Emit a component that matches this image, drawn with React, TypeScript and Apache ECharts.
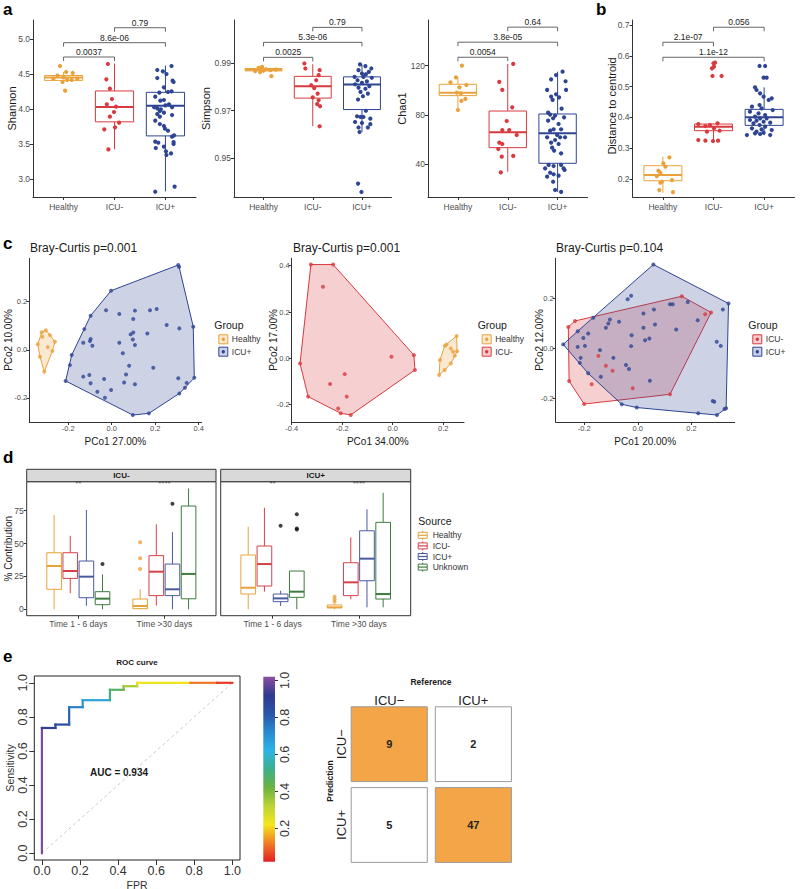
import React, { useEffect, useRef } from 'react';
import * as echarts from 'echarts';

const FONT = '"Liberation Sans", Arial, Helvetica, sans-serif';
const COL_H = '#E9A23B';
const COL_M = '#D93A3F';
const COL_P = '#2E4593';
const COL_DM = '#D6404A';
const COL_DP = '#4A5AA0';
const COL_DU = '#3E7B3E';

// ---------- Panel a / b : alpha diversity & dispersion ----------
const groups = ['Healthy', 'ICU-', 'ICU+'];

const shannonTicks = [3.0, 3.5, 4.0, 4.5, 5.0];
const shannonBox = [
  [4.38, 4.41, 4.45, 4.48, 4.53],
  [3.43, 3.82, 4.03, 4.26, 4.65],
  [2.83, 3.62, 4.05, 4.24, 4.62],
];
const shannonHealthy = [[-0.07, 4.615], [0.05, 4.53], [0.18, 4.516], [-0.12, 4.48], [0, 4.454], [0.07, 4.416], [0.16, 4.416], [-0.02, 4.387], [-0.2, 4.435], [0.27, 4.435], [0.03, 4.264]];
const shannonIcuMinus = [[-0.13, 4.644], [-0.16, 4.425], [-0.09, 4.292], [-0.05, 4.145], [-0.15, 4.069], [0.03, 4.036], [-0.01, 3.96], [-0.09, 3.894], [0.09, 3.808], [0.01, 3.742], [-0.2, 3.713], [-0.12, 3.428]];
const shannonIcuPlus = [[0.12, 4.615], [-0.16, 4.558], [-0.05, 4.539], [0.02, 4.501], [-0.16, 4.444], [0.14, 4.406], [0.16, 4.387], [-0.03, 4.311], [0.12, 4.254], [-0.12, 4.236], [0.05, 4.245], [-0.2, 4.179], [-0.03, 4.131], [-0.1, 4.122], [0.07, 4.069], [0, 4.055], [0.13, 4.027], [-0.22, 4.027], [-0.16, 4.012], [-0.09, 3.998], [-0.11, 3.974], [-0.03, 3.951], [0.13, 3.917], [-0.16, 3.932], [-0.11, 3.894], [-0.2, 3.837], [-0.11, 3.789], [-0.03, 3.761], [-0.01, 3.723], [0.05, 3.694], [0.17, 3.628], [0.13, 3.609], [-0.2, 3.538], [-0.14, 3.523], [0.16, 3.533], [0.16, 3.504], [-0.03, 3.467], [-0.19, 3.447], [0.01, 3.4], [0.11, 3.371], [0.02, 3.348], [0.18, 2.897], [-0.2, 2.825]];
const shannonBrackets = [[2, 3, 5.16], [1, 3, 4.947], [1, 2, 4.743]];
const shannonPvals = ['0.79', '8.6e-06', '0.0037'];

const simpsonTicks = [0.95, 0.97, 0.99];
const simpsonBox = [
  [0.9857, 0.9866, 0.9871, 0.9876, 0.9885],
  [0.9634, 0.9752, 0.9802, 0.9843, 0.9894],
  [0.961, 0.9704, 0.9809, 0.9841, 0.9893],
];
const simpsonHealthy = [[-0.1, 0.9879], [-0.03, 0.9883], [0.05, 0.9873], [-0.17, 0.9865], [0.14, 0.9869], [0.25, 0.9871], [0, 0.9868], [-0.07, 0.9861], [0.16, 0.9844]];
const simpsonIcuMinus = [[-0.17, 0.9897], [-0.15, 0.9876], [0.14, 0.9869], [0.12, 0.9848], [0.07, 0.9827], [-0.03, 0.9806], [0.03, 0.9794], [0.1, 0.9771], [0, 0.9755], [0.12, 0.9743], [0.09, 0.9727], [0.15, 0.9718], [0.14, 0.9634]];
const simpsonIcuPlus = [[-0.04, 0.9893], [0.07, 0.9886], [0.19, 0.9876], [-0.07, 0.9869], [0.14, 0.9862], [0, 0.9855], [0.08, 0.9852], [-0.15, 0.9841], [0.03, 0.9841], [0.2, 0.9837], [-0.09, 0.9827], [0.1, 0.9822], [0, 0.9816], [-0.14, 0.981], [0.15, 0.9802], [-0.07, 0.9796], [0.07, 0.9791], [-0.03, 0.9778], [0.12, 0.9771], [0.02, 0.976], [-0.08, 0.9746], [0.08, 0.9699], [-0.1, 0.9676], [0.03, 0.9673], [-0.03, 0.9673], [0.17, 0.9666], [-0.14, 0.9652], [0, 0.9648], [0.17, 0.9643], [-0.07, 0.9629], [0.12, 0.9629], [-0.05, 0.961], [-0.08, 0.9394], [-0.01, 0.9359]];
const simpsonBrackets = [[2, 3, 1.00481], [1, 3, 0.99854], [1, 2, 0.99226]];
const simpsonPvals = ['0.79', '5.3e-06', '0.0025'];

const chao1Ticks = [40, 80, 120];
const chao1Box = [
  [84, 95.7, 98.1, 104.9, 110.5],
  [34, 53.5, 66, 83.2, 121.4],
  [17.6, 40.8, 65.1, 80.8, 115.1],
];
const chao1Healthy = [[0.08, 120], [-0.04, 110.5], [-0.15, 106.5], [0.17, 104.3], [0.03, 102.4], [-0.02, 98.1], [0.06, 97.6], [0.15, 93], [0.07, 91.4], [0, 84]];
const chao1IcuMinus = [[0.11, 121.4], [-0.17, 106.8], [-0.11, 100.3], [0.09, 86.2], [-0.02, 75.1], [-0.11, 67.8], [0.03, 67.8], [0.18, 63.8], [-0.17, 57.6], [-0.11, 56.5], [-0.19, 52.4], [0.11, 46.8], [-0.12, 46.2], [-0.14, 33.5]];
const chao1IcuPlus = [[0.1, 115.1], [-0.03, 112.4], [-0.13, 108.9], [0.16, 107.3], [-0.21, 100.3], [0.17, 100.3], [-0.03, 96.8], [-0.13, 94.9], [0.03, 94.3], [-0.1, 92.2], [0.08, 85.1], [-0.19, 81.9], [-0.15, 80.3], [-0.05, 79.5], [0.13, 78.1], [-0.09, 77.3], [-0.19, 75.4], [0.02, 72.7], [-0.08, 68.4], [0.07, 68.4], [-0.15, 67.3], [-0.01, 63.8], [-0.21, 61.9], [0.05, 61.9], [0.15, 61.9], [-0.05, 59.7], [-0.13, 57.6], [0.02, 56.5], [-0.11, 53.5], [-0.07, 51.1], [0.07, 48.9], [-0.18, 39.5], [0.07, 39.5], [-0.08, 38.6], [-0.25, 36.7], [0.12, 36.7], [0.14, 35.4], [-0.15, 33.2], [-0.08, 31.9], [0.02, 30.8], [-0.21, 30], [-0.09, 25.9], [-0.05, 19.2], [0.07, 17.6]];
const chao1Brackets = [[2, 3, 151.2], [1, 3, 139.0], [1, 2, 126.8]];
const chao1Pvals = ['0.64', '3.8e-05', '0.0054'];

const distTicks = [0.2, 0.3, 0.4, 0.5, 0.6, 0.7];
const distBox = [
  [0.1557, 0.1947, 0.213, 0.2434, 0.2726],
  [0.3235, 0.357, 0.37, 0.3786, 0.3808],
  [0.3429, 0.3743, 0.4003, 0.4262, 0.4977],
];
const distHealthy = [[0.13, 0.2704], [0.01, 0.251], [0.05, 0.2401], [-0.09, 0.2272], [-0.05, 0.2207], [-0.12, 0.2098], [0.18, 0.1969], [-0.02, 0.1915], [-0.05, 0.1882], [-0.07, 0.1644], [0.2, 0.1579]];
const distIcuMinus = [[0, 0.5756], [0.03, 0.5777], [-0.03, 0.5593], [0.01, 0.5648], [-0.02, 0.5345], [0.16, 0.5345], [-0.3, 0.3786], [-0.16, 0.3722], [-0.07, 0.3754], [0.08, 0.3808], [0.01, 0.3646], [0.12, 0.357], [-0.13, 0.3538], [-0.3, 0.3267], [-0.16, 0.3246], [-0.01, 0.3235], [0.09, 0.3246]];
const distIcuPlus = [[-0.09, 0.5669], [0.02, 0.5669], [-0.01, 0.529], [0.05, 0.529], [-0.18, 0.4977], [-0.15, 0.489], [-0.08, 0.4782], [-0.01, 0.4674], [0.15, 0.462], [0.09, 0.4566], [-0.24, 0.4349], [-0.09, 0.4403], [-0.05, 0.4295], [0.17, 0.4241], [-0.28, 0.4187], [-0.11, 0.4133], [0.02, 0.4079], [-0.18, 0.4025], [-0.08, 0.397], [0.05, 0.397], [-0.28, 0.3916], [-0.15, 0.3895], [-0.01, 0.3862], [0.12, 0.383], [-0.21, 0.3808], [-0.09, 0.3754], [0.02, 0.37], [-0.24, 0.3646], [-0.05, 0.3613], [0.15, 0.3592], [-0.15, 0.3538], [-0.01, 0.3505], [-0.34, 0.3429], [0.12, 0.3429], [-0.18, 0.3484], [-0.08, 0.3462]];
const distBrackets = [[2, 3, 0.6925], [1, 2, 0.6438], [1, 3, 0.5951]];
const distPvals = ['0.056', '2.1e-07', '1.1e-12'];

// ---------- Panel c : PCoA ----------
const cLeftHealthy = [[-0.34, 0.0225], [-0.322, 0.0725], [-0.303, 0.081], [-0.284, 0.061], [-0.261, 0.033], [-0.294, 0.011], [-0.273, -0.005], [-0.33, -0.029], [-0.31, -0.092], [-0.319, 0.054]];
const cLeftIcuPlus = [[0.306, 0.353], [0.31, 0.345], [-0.003, 0.246], [-0.097, 0.142], [-0.126, 0.086], [-0.184, -0.022], [-0.192, -0.064], [-0.212, -0.13], [-0.026, 0.165], [0.035, 0.149], [0.107, 0.163], [0.099, 0.128], [0.176, 0.165], [0.207, 0.17], [0.253, 0.103], [0.311, 0.089], [0.375, 0.096], [0.164, 0.068], [0.099, 0.072], [0.087, 0.064], [0.097, 0.043], [0.107, 0.02], [0.035, 0.029], [-0.097, 0.045], [-0.1, 0.036], [-0.131, 0.029], [-0.089, 0.017], [0.051, -0.015], [0.08, -0.067], [0.066, -0.103], [0.191, -0.075], [-0.103, -0.105], [-0.131, -0.112], [-0.035, -0.122], [-0.097, -0.14], [0.057, -0.136], [0.107, -0.144], [0.306, -0.119], [0.38, -0.117], [0.345, -0.138], [0.337, -0.158], [0.311, -0.182], [-0.003, -0.168], [-0.066, -0.175], [-0.031, -0.2], [0.097, -0.272], [0.171, -0.265]];
const cMidIcuMinus = [[-0.324, 0.405], [-0.236, 0.405], [-0.276, 0.309], [-0.005, 0.007], [0.084, 0.014], [0.088, -0.05], [-0.367, -0.022], [-0.19, -0.068], [-0.248, -0.111], [-0.182, -0.165], [-0.335, -0.165], [-0.216, -0.216], [-0.206, -0.237], [-0.166, -0.244]];
const cMidHealthy = [[0.253, 0.097], [0.213, 0.06], [0.206, 0.054], [0.23, 0.043], [0.239, 0.029], [0.255, 0.031], [0.246, 0.011], [0.187, -0.007], [0.23, -0.022], [0.206, -0.05], [0.184, -0.072]];
const cRightIcuMinus = [[0.164, 0.209], [0.273, 0.144], [0.251, 0.137], [0.12, -0.184], [-0.2, -0.223], [-0.256, -0.131], [-0.259, 0.086], [-0.234, 0.11], [-0.147, -0.03], [-0.119, -0.07], [-0.094, -0.09], [-0.172, -0.144], [-0.019, -0.16]];
const cRightIcuPlus = [[0.058, 0.336], [0.338, 0.18], [0.317, 0.156], [0.186, 0.186], [0.12, 0.177], [0.13, 0.177], [-0.038, 0.197], [-0.025, 0.211], [-0.166, 0.123], [-0.104, 0.116], [-0.07, 0.107], [-0.11, 0.1], [-0.119, 0.083], [0.021, 0.14], [0.06, 0.156], [0.064, 0.096], [0.021, 0.083], [0.143, 0.076], [0.223, 0.113], [-0.224, 0.069], [-0.185, 0.06], [-0.203, 0.042], [-0.224, 0.006], [-0.197, 0.01], [-0.278, 0.016], [-0.213, -0.038], [-0.216, -0.058], [-0.141, -0.007], [-0.091, -0.038], [-0.023, 0.053], [-0.025, 0.009], [0.027, 0.033], [0.043, 0.04], [-0.044, -0.067], [-0.033, -0.083], [-0.138, -0.114], [0.045, -0.13], [-0.185, -0.1], [0.294, 0.027], [0.309, 0.01], [0.279, -0.211], [0.285, -0.214], [0.329, -0.24], [-0.06, -0.224], [-0.004, -0.237], [0.225, -0.26], [0.295, -0.267], [0.323, -0.243]];
const cTitles = ['Bray-Curtis p=0.001', 'Bray-Curtis p=0.001', 'Bray-Curtis p=0.104'];
const cXNames = ['PCo1 27.00%', 'PCo1 34.00%', 'PCo1 20.00%'];
const cYNames = ['PCo2 10.00%', 'PCo2 17.00%', 'PCo2 12.00%'];

// ---------- Panel d : source tracking ----------
const dSources = ['Healthy', 'ICU-', 'ICU+', 'Unknown'];
const dTimes = ['Time 1 - 6 days', 'Time >30 days'];
const dFacets = ['ICU-', 'ICU+'];
const dTicks = [0, 25, 50, 75];
const dIcuMinusEarly = [[0, 15.2, 32.9, 43.0, 71.7], [12.2, 23.5, 29.1, 43.0, 55.9], [2.7, 8.8, 24.8, 36.7, 75.5], [0, 3.5, 8.1, 13.4, 26.6]];
const dIcuMinusLate = [[0, 0.5, 2.5, 7.8, 15.2], [2.8, 10.4, 28.6, 40.8, 64.6], [0, 10.4, 15.2, 34.4, 58.7], [0, 8.0, 26.9, 78.5, 91.9]];
const dIcuPlusEarly = [[0, 11.6, 16.4, 41.3, 62.8], [13.4, 17.7, 34.4, 48.1, 77.2], [2.5, 5.8, 8.3, 11.6, 14.1], [0, 9.1, 13.4, 29.1, 29.1]];
const dIcuPlusLate = [[0, 1.2, 1.5, 3.3, 4.0], [7.6, 10.4, 20.5, 35.4, 54.7], [1.5, 21.7, 38.5, 59.7, 76.0], [1.5, 7.8, 11.6, 66.1, 88.6]];
// [time (1|2), source index, value]
const dOutliersMinus = [[1, 3, 34.4], [2, 0, 50.9], [2, 0, 38.8], [2, 0, 30.6], [2, 2, 80.2]];
const dOutliersPlus = [[1, 2, 63.5], [1, 3, 72.2], [1, 3, 61.5], [1, 3, 60.6], [2, 0, 9.6], [2, 0, 7.7], [2, 0, 5.8]];
const dStars = ['**', '****'];
const dStarLevel = 95.5;

// ---------- Panel e : ROC + confusion matrix ----------
const rocTicks = [0, 0.2, 0.4, 0.6, 0.8, 1.0];
// [fpr1, tpr1, fpr2, tpr2, cutoff]
const rocSegments = [
  [0, 0, 0, 0.735, 0.98], [0, 0.735, 0.071, 0.735, 0.88], [0.071, 0.735, 0.071, 0.755, 0.86],
  [0.071, 0.755, 0.143, 0.755, 0.84], [0.143, 0.755, 0.143, 0.857, 0.78], [0.143, 0.857, 0.214, 0.857, 0.72],
  [0.214, 0.857, 0.214, 0.898, 0.68], [0.214, 0.898, 0.357, 0.898, 0.64], [0.357, 0.898, 0.357, 0.959, 0.5],
  [0.357, 0.959, 0.429, 0.959, 0.45], [0.429, 0.959, 0.429, 0.98, 0.38], [0.429, 0.98, 0.5, 0.98, 0.33],
  [0.5, 0.98, 0.5, 1, 0.28], [0.5, 1, 0.78, 1, 0.21], [0.78, 1, 0.92, 1, 0.09], [0.92, 1, 1, 1, 0.03],
];
const rocDiagonal = [[0, 0], [1, 1]];
const aucText = 'AUC = 0.934';
const rainbow = ['#E31E24', '#F07E26', '#F4E51B', '#BCD435', '#6CB33F', '#3DB08A', '#2DB3E6', '#2A8AD0', '#2B55A8', '#313A8F', '#8E4F9F'];
const colorbarTicks = [0.2, 0.4, 0.6, 0.8, 1.0];
const colorbarRange = [0.02, 1.02];
const refLabels = ['ICU\u2212', 'ICU+'];
const predLabels = ['ICU+', 'ICU\u2212'];
// [reference index, prediction index, count]
const confusionCells = [[0, 1, 9], [1, 1, 2], [0, 0, 5], [1, 0, 47]];

// ---------- helpers ----------
function rgba(hex: string, a: number) {
  const n = parseInt(hex.slice(1), 16);
  return `rgba(${(n >> 16) & 255},${(n >> 8) & 255},${n & 255},${a})`;
}

function convexHull(pts: number[][]) {
  const p = pts.slice().sort((a, b) => a[0] - b[0] || a[1] - b[1]);
  const cross = (o: number[], a: number[], b: number[]) => (a[0] - o[0]) * (b[1] - o[1]) - (a[1] - o[1]) * (b[0] - o[0]);
  const lower: number[][] = [];
  for (const q of p) {
    while (lower.length >= 2 && cross(lower[lower.length - 2], lower[lower.length - 1], q) <= 0) lower.pop();
    lower.push(q);
  }
  const upper: number[][] = [];
  for (const q of p.slice().reverse()) {
    while (upper.length >= 2 && cross(upper[upper.length - 2], upper[upper.length - 1], q) <= 0) upper.pop();
    upper.push(q);
  }
  upper.pop();
  lower.pop();
  return lower.concat(upper);
}

function txt(text: string, x: number, y: number, size: number, o: any = {}) {
  const align = o.align || 'center';
  return {
    type: 'text', x, y, rotation: o.rot || 0, silent: true, z: 100,
    style: {
      text, fill: o.color || '#1a1a1a',
      font: `${o.bold ? 'bold ' : ''}${size}px ${FONT}`,
      textAlign: align, align, textVerticalAlign: 'middle', verticalAlign: 'middle',
    },
  };
}

function valAxis(gi: number, min: number, max: number, ticks: number[], fmt: (v: number) => string, o: any = {}) {
  return {
    type: 'value', gridIndex: gi, min, max, position: o.position,
    axisLine: { show: o.line !== false, onZero: false, lineStyle: { color: '#333', width: 1 } },
    axisTick: { show: o.tick !== false, length: o.tickLen ?? 3, customValues: ticks, lineStyle: { color: '#333', width: 1 } },
    axisLabel: {
      show: o.label !== false, customValues: ticks,
      formatter: (v: number) => (ticks.some((t) => Math.abs(t - v) < 1e-9) ? fmt(v) : ''),
      color: o.labelColor ?? '#4D4D4D', fontSize: o.fontSize ?? 8.5, margin: o.margin ?? 3,
      rotate: o.rotate ?? 0, fontFamily: FONT,
    },
    splitLine: { show: false },
  };
}

const fmt1 = (v: number) => v.toFixed(1);
const fmt2 = (v: number) => v.toFixed(2);
const fmt0 = (v: number) => String(Math.round(v));
const fmtGroup = (v: number) => groups[Math.round(v) - 1] ?? '';
const fmtTime = (v: number) => dTimes[Math.round(v) - 1] ?? '';

function boxSeries(gi: number, rows: number[][], colors: string | string[], width: number, medW: number) {
  return {
    type: 'custom', xAxisIndex: gi, yAxisIndex: gi, silent: true, z: 2,
    encode: { x: 0, y: [1, 2, 3, 4, 5] },
    data: rows,
    renderItem: (params: any, api: any) => {
      const c = Array.isArray(colors) ? colors[params.dataIndex] : colors;
      const x = api.value(0);
      const p = [1, 2, 3, 4, 5].map((i) => api.coord([x, api.value(i)]));
      const cx = p[0][0];
      const w = api.size([width, 0])[0];
      const st = { stroke: c, lineWidth: 1, fill: null };
      return {
        type: 'group',
        children: [
          { type: 'line', shape: { x1: cx, y1: p[4][1], x2: cx, y2: p[3][1] }, style: st },
          { type: 'line', shape: { x1: cx, y1: p[1][1], x2: cx, y2: p[0][1] }, style: st },
          { type: 'rect', shape: { x: cx - w / 2, y: p[3][1], width: w, height: p[1][1] - p[3][1] }, style: { stroke: c, lineWidth: 1, fill: '#fff' } },
          { type: 'line', shape: { x1: cx - w / 2, y1: p[2][1], x2: cx + w / 2, y2: p[2][1] }, style: { stroke: c, lineWidth: medW } },
        ],
      };
    },
  };
}

function jitterSeries(gi: number, gIdx: number, pts: number[][], color: string) {
  return {
    type: 'scatter', xAxisIndex: gi, yAxisIndex: gi, silent: true, z: 4, symbolSize: 4.2,
    itemStyle: { color, opacity: 1 },
    data: pts.map(([j, v]) => [gIdx + 1 + j, v]),
  };
}

function bracketSeries(gi: number, rows: number[][], labels: string[]) {
  return {
    type: 'custom', xAxisIndex: gi, yAxisIndex: gi, silent: true, z: 5,
    encode: { x: [0, 1], y: 2 },
    data: rows,
    renderItem: (params: any, api: any) => {
      const a = api.coord([api.value(0), api.value(2)]);
      const b = api.coord([api.value(1), api.value(2)]);
      return {
        type: 'group',
        children: [
          { type: 'polyline', shape: { points: [[a[0], a[1] + 4], a, b, [b[0], b[1] + 4]] }, style: { stroke: '#555', lineWidth: 0.9, fill: null } },
          {
            type: 'text', x: (a[0] + b[0]) / 2, y: a[1] - 0.5,
            style: { text: labels[params.dataIndex], fill: '#222', font: `8.5px ${FONT}`, textAlign: 'center', align: 'center', textVerticalAlign: 'bottom', verticalAlign: 'bottom' },
          },
        ],
      };
    },
  };
}

function hullSeries(gi: number, pts: number[][], color: string) {
  const hull = convexHull(pts);
  return {
    type: 'custom', xAxisIndex: gi, yAxisIndex: gi, silent: true, z: 1,
    encode: { x: 0, y: 1 },
    data: hull,
    renderItem: (params: any, api: any) => {
      if (params.dataIndex !== 0) return null;
      const points = hull.map((p) => api.coord(p));
      return { type: 'polygon', shape: { points }, style: { fill: rgba(color, 0.24), stroke: color, lineWidth: 1 } };
    },
  };
}

function pointSeries(gi: number, pts: number[][], color: string) {
  return { type: 'scatter', xAxisIndex: gi, yAxisIndex: gi, silent: true, z: 4, symbolSize: 4, itemStyle: { color }, data: pts };
}

function cLegend(x0: number, items: [string, string][]) {
  const els: any[] = [txt('Group', x0, 325, 10.5, { align: 'left' })];
  items.forEach(([label, color], i) => {
    const y = 339.3 + i * 12.4;
    els.push({ type: 'rect', shape: { x: x0 + 4.5, y: y - 4.5, width: 9, height: 9 }, style: { fill: rgba(color, 0.24), stroke: color, lineWidth: 1 }, silent: true });
    els.push({ type: 'circle', shape: { cx: x0 + 9, cy: y, r: 1.7 }, style: { fill: color }, silent: true });
    els.push(txt(label, x0 + 17.5, y, 8.5, { align: 'left', color: '#333' }));
  });
  return els;
}

function buildOption() {
  const grids = [
    { left: 33, top: 20, width: 163, height: 177 },
    { left: 234, top: 20, width: 157.5, height: 177 },
    { left: 428, top: 20, width: 159.5, height: 177 },
    { left: 632.5, top: 20, width: 162, height: 177 },
    { left: 29.3, top: 258.3, width: 172.2, height: 163.7 },
    { left: 291.7, top: 258.3, width: 172.3, height: 163.7 },
    { left: 555.7, top: 258.3, width: 179, height: 163.7 },
    { left: 26.7, top: 481.7, width: 189.3, height: 134, show: true, borderColor: '#333', borderWidth: 1 },
    { left: 220.7, top: 481.7, width: 190, height: 134, show: true, borderColor: '#333', borderWidth: 1 },
    { left: 34.3, top: 676, width: 205.7, height: 184, show: true, borderColor: '#222', borderWidth: 1 },
    { left: 263.3, top: 676.7, width: 11.7, height: 185 },
    { left: 347.2, top: 703.8, width: 168.2, height: 161.6 },
  ].map((g: any) => ({ outerBoundsMode: 'none', containLabel: false, backgroundColor: 'transparent', ...g }));

  const groupTicks = [1, 2, 3];
  const xAxis: any[] = [
    valAxis(0, 0.4, 3.6, groupTicks, fmtGroup, { margin: 5 }),
    valAxis(1, 0.4, 3.6, groupTicks, fmtGroup, { margin: 5 }),
    valAxis(2, 0.4, 3.6, groupTicks, fmtGroup, { margin: 5 }),
    valAxis(3, 0.4, 3.6, groupTicks, fmtGroup, { margin: 5 }),
    valAxis(4, -0.379, 0.413, [-0.2, 0, 0.2, 0.4], fmt1, { fontSize: 7.5, margin: 2 }),
    valAxis(5, -0.4, 0.2823, [-0.4, -0.2, 0, 0.2], fmt1, { fontSize: 7.5, margin: 2 }),
    valAxis(6, -0.306, 0.361, [-0.2, 0, 0.2], fmt1, { fontSize: 7.5, margin: 2 }),
    valAxis(7, 0.4, 2.6, [1, 2], fmtTime, { line: false, margin: 4 }),
    valAxis(8, 0.4, 2.6, [1, 2], fmtTime, { line: false, margin: 4 }),
    valAxis(9, -0.04, 1.04, rocTicks, fmt1, { line: false, tickLen: 5, fontSize: 12.5, labelColor: '#333', margin: 4 }),
    valAxis(10, 0, 1, [], fmt1, { line: false, tick: false, label: false }),
    {
      type: 'category', gridIndex: 11, data: refLabels, position: 'top',
      axisLine: { show: false }, axisTick: { show: false }, splitLine: { show: false },
      axisLabel: { fontSize: 13, color: '#222', margin: -3, fontFamily: FONT },
    },
  ];
  const yAxis: any[] = [
    valAxis(0, 2.75, 5.27, shannonTicks, fmt1),
    valAxis(1, 0.9338, 1.0079, simpsonTicks, fmt2),
    valAxis(2, 13.5, 157, chao1Ticks, fmt0),
    valAxis(3, 0.142, 0.716, distTicks, fmt1),
    valAxis(4, -0.301, 0.381, [-0.2, 0, 0.2], fmt1, { fontSize: 7.5, margin: 2 }),
    valAxis(5, -0.2746, 0.432, [-0.2, 0, 0.2, 0.4], fmt1, { fontSize: 7.5, margin: 2 }),
    valAxis(6, -0.295, 0.361, [-0.2, 0, 0.2], fmt1, { fontSize: 7.5, margin: 2 }),
    valAxis(7, -4.86, 97, dTicks, fmt0, { line: false }),
    valAxis(8, -4.86, 97, dTicks, fmt0, { line: false, tick: false, label: false }),
    valAxis(9, -0.04, 1.04, rocTicks, fmt1, { line: false, tickLen: 5, fontSize: 12.5, labelColor: '#333', margin: 5, rotate: 90 }),
    valAxis(10, colorbarRange[0], colorbarRange[1], colorbarTicks, fmt1, { line: false, tickLen: 3, fontSize: 12.5, labelColor: '#333', margin: 3, rotate: 90, position: 'right' }),
    {
      type: 'category', gridIndex: 11, data: predLabels,
      axisLine: { show: false }, axisTick: { show: false }, splitLine: { show: false },
      axisLabel: { fontSize: 13, color: '#222', margin: -1, rotate: 90, fontFamily: FONT },
    },
  ];

  const series: any[] = [];
  const aSets = [
    { gi: 0, box: shannonBox, pts: [shannonHealthy, shannonIcuMinus, shannonIcuPlus], br: shannonBrackets, pv: shannonPvals },
    { gi: 1, box: simpsonBox, pts: [simpsonHealthy, simpsonIcuMinus, simpsonIcuPlus], br: simpsonBrackets, pv: simpsonPvals },
    { gi: 2, box: chao1Box, pts: [chao1Healthy, chao1IcuMinus, chao1IcuPlus], br: chao1Brackets, pv: chao1Pvals },
    { gi: 3, box: distBox, pts: [distHealthy, distIcuMinus, distIcuPlus], br: distBrackets, pv: distPvals },
  ];
  const gCols = [COL_H, COL_M, COL_P];
  aSets.forEach((s) => {
    series.push(boxSeries(s.gi, s.box.map((b, i) => [i + 1, ...b]), gCols, 0.75, 2));
    s.pts.forEach((p, i) => series.push(jitterSeries(s.gi, i, p, gCols[i])));
    series.push(bracketSeries(s.gi, s.br, s.pv));
  });

  // panel c
  series.push(hullSeries(4, cLeftHealthy, COL_H), hullSeries(4, cLeftIcuPlus, COL_P));
  series.push(pointSeries(4, cLeftHealthy, COL_H), pointSeries(4, cLeftIcuPlus, COL_P));
  series.push(hullSeries(5, cMidIcuMinus, COL_M), hullSeries(5, cMidHealthy, COL_H));
  series.push(pointSeries(5, cMidIcuMinus, COL_M), pointSeries(5, cMidHealthy, COL_H));
  series.push(hullSeries(6, cRightIcuMinus, COL_M), hullSeries(6, cRightIcuPlus, COL_P));
  series.push(pointSeries(6, cRightIcuMinus, COL_M), pointSeries(6, cRightIcuPlus, COL_P));

  // panel d
  const dOffsets = [-0.28125, -0.09375, 0.09375, 0.28125];
  const dColors = [COL_H, COL_DM, COL_DP, COL_DU];
  const dFacetData = [
    { gi: 7, early: dIcuMinusEarly, late: dIcuMinusLate, out: dOutliersMinus },
    { gi: 8, early: dIcuPlusEarly, late: dIcuPlusLate, out: dOutliersPlus },
  ];
  dFacetData.forEach((f) => {
    dSources.forEach((_, si) => {
      series.push(boxSeries(f.gi, [[1 + dOffsets[si], ...f.early[si]], [2 + dOffsets[si], ...f.late[si]]], dColors[si], 0.17, 2));
    });
    series.push({
      type: 'scatter', xAxisIndex: f.gi, yAxisIndex: f.gi, silent: true, z: 4, symbolSize: 4,
      data: f.out.map(([t, si, v]) => ({ value: [t + dOffsets[si], v], itemStyle: { color: si === 0 ? COL_H : '#111' } })),
    });
    series.push({
      type: 'scatter', xAxisIndex: f.gi, yAxisIndex: f.gi, silent: true, z: 4, symbolSize: 1,
      itemStyle: { color: 'rgba(0,0,0,0)' },
      data: [[1, dStarLevel], [2, dStarLevel]],
      label: { show: true, position: 'inside', formatter: (p: any) => dStars[p.dataIndex], fontSize: 8, color: '#333', fontFamily: FONT },
    });
  });

  // panel e: ROC
  series.push({
    type: 'line', xAxisIndex: 9, yAxisIndex: 9, silent: true, symbol: 'none', z: 2,
    data: rocDiagonal, lineStyle: { color: '#C8C8C8', width: 1, type: [3, 3] },
  });
  const rocIndex = series.length;
  series.push({
    type: 'custom', xAxisIndex: 9, yAxisIndex: 9, silent: true, z: 3,
    encode: { x: [0, 2], y: [1, 3] },
    data: rocSegments,
    renderItem: (params: any, api: any) => {
      const a = api.coord([api.value(0), api.value(1)]);
      const b = api.coord([api.value(2), api.value(3)]);
      return { type: 'line', shape: { x1: a[0], y1: a[1], x2: b[0], y2: b[1] }, style: { stroke: api.visual('color'), lineWidth: 2.2, lineCap: 'square' } };
    },
  });
  series.push({
    type: 'custom', xAxisIndex: 10, yAxisIndex: 10, silent: true, z: 2,
    data: [[0, colorbarRange[0], 1, colorbarRange[1]]],
    encode: { x: [0, 2], y: [1, 3] },
    renderItem: (params: any, api: any) => {
      const a = api.coord([api.value(0), api.value(1)]);
      const b = api.coord([api.value(2), api.value(3)]);
      const stops = rainbow.map((c, i) => ({ offset: i / (rainbow.length - 1), color: c }));
      return {
        type: 'rect', shape: { x: a[0], y: b[1], width: b[0] - a[0], height: a[1] - b[1] },
        style: { fill: new echarts.graphic.LinearGradient(0, 1, 0, 0, stops) },
      };
    },
  });

  // confusion matrix
  series.push({
    type: 'custom', xAxisIndex: 11, yAxisIndex: 11, silent: true, z: 3,
    encode: { x: 0, y: 1 },
    data: confusionCells,
    renderItem: (params: any, api: any) => {
      const xi = api.value(0);
      const yi = api.value(1);
      const n = confusionCells[params.dataIndex][2];
      const c = api.coord([xi, yi]);
      const s = api.size([1, 1]);
      const correct = refLabels[xi] === predLabels[yi];
      return {
        type: 'group',
        children: [
          { type: 'rect', shape: { x: c[0] - s[0] / 2 + 4, y: c[1] - s[1] / 2 + 3, width: s[0] - 8, height: s[1] - 6 }, style: { fill: correct ? '#F4A547' : '#fff', stroke: '#9A9A9A', lineWidth: 1 } },
          { type: 'text', x: c[0], y: c[1], style: { text: String(n), fill: '#222', font: `bold 11px ${FONT}`, textAlign: 'center', align: 'center', textVerticalAlign: 'middle', verticalAlign: 'middle' } },
        ],
      };
    },
  });

  // ---------- graphic texts ----------
  const els: any[] = [];
  els.push(txt('a', 3, 9, 17, { bold: true, align: 'left', color: '#000' }));
  els.push(txt('b', 596, 9, 17, { bold: true, align: 'left', color: '#000' }));
  els.push(txt('c', 3, 243, 17, { bold: true, align: 'left', color: '#000' }));
  els.push(txt('d', 3, 457, 17, { bold: true, align: 'left', color: '#000' }));
  els.push(txt('e', 3, 656, 17, { bold: true, align: 'left', color: '#000' }));

  const rot = Math.PI / 2;
  els.push(txt('Shannon', 11.5, 108.5, 11, { rot }));
  els.push(txt('Simpson', 206, 108.5, 11, { rot }));
  els.push(txt('Chao1', 401.5, 108.5, 11, { rot }));
  els.push(txt('Distance to centroid', 611.5, 106, 11, { rot }));

  // panel c titles & legends
  const cTitleX = [30, 293, 556];
  const cYNameX = [8.5, 273.5, 539];
  const cXNameX = [115.4, 377.8, 645.2];
  cTitles.forEach((t, i) => {
    els.push(txt(t, cTitleX[i], 247.5, 12, { align: 'left' }));
    els.push(txt(cYNames[i], cYNameX[i], 340, 10, { rot }));
    els.push(txt(cXNames[i], cXNameX[i], 441, 10));
  });
  els.push(...cLegend(214.3, [['Healthy', COL_H], ['ICU+', COL_P]]));
  els.push(...cLegend(477.7, [['Healthy', COL_H], ['ICU-', COL_M]]));
  els.push(...cLegend(748.3, [['ICU-', COL_M], ['ICU+', COL_P]]));

  // panel d strips, legend, y title
  const stripX = [[26.7, 189.3], [220.7, 190]];
  dFacets.forEach((f, i) => {
    els.push({ type: 'rect', shape: { x: stripX[i][0], y: 469.3, width: stripX[i][1], height: 12.4 }, style: { fill: '#D9D9D9', stroke: '#333', lineWidth: 1 }, silent: true });
    els.push(txt(f, stripX[i][0] + stripX[i][1] / 2, 475.5, 8, { bold: true }));
  });
  els.push(txt('% Contribution', 8.5, 548.7, 10, { rot }));
  els.push(txt('Source', 418.3, 521, 10.5, { align: 'left' }));
  dSources.forEach((s, i) => {
    const y = 535.3 + i * 10.6;
    const c = dColors[i];
    els.push({ type: 'line', shape: { x1: 422.7, y1: y - 4.5, x2: 422.7, y2: y + 4.5 }, style: { stroke: c, lineWidth: 1 }, silent: true });
    els.push({ type: 'rect', shape: { x: 418.2, y: y - 3, width: 9, height: 6 }, style: { fill: '#fff', stroke: c, lineWidth: 1 }, silent: true });
    els.push({ type: 'line', shape: { x1: 418.2, y1: y, x2: 427.2, y2: y }, style: { stroke: c, lineWidth: 1.2 }, silent: true });
    els.push(txt(s, 432.7, y, 8.5, { align: 'left', color: '#333' }));
  });

  // panel e
  els.push(txt('ROC curve', 137, 662.5, 8, { bold: true }));
  els.push(txt(aucText, 119, 772.7, 10, { bold: true }));
  els.push(txt('FPR', 137, 884.5, 10.5, { color: '#333' }));
  els.push(txt('Sensitivity', 9.5, 768, 10.5, { rot, color: '#333' }));
  els.push(txt('Reference', 431, 682.3, 8.5, { bold: true }));
  els.push(txt('Prediction', 330, 781, 8.5, { bold: true, rot }));

  return {
    animation: false,
    backgroundColor: '#fff',
    textStyle: { fontFamily: FONT },
    grid: grids,
    xAxis,
    yAxis,
    visualMap: [{
      type: 'continuous', show: false, seriesIndex: rocIndex, dimension: 4, min: 0, max: 1,
      inRange: { color: rainbow },
    }],
    series,
    graphic: { elements: els },
  };
}

export default function App() {
  const ref = useRef<HTMLDivElement>(null);
  useEffect(() => {
    if (!ref.current) return;
    const chart = echarts.init(ref.current, null, { renderer: 'svg' });
    chart.setOption(buildOption() as any);
    return () => chart.dispose();
  }, []);
  return (
    <div
      ref={ref}
      style={{ position: 'fixed', left: 0, top: 0, width: 800, height: 889, background: '#fff' }}
    />
  );
}
